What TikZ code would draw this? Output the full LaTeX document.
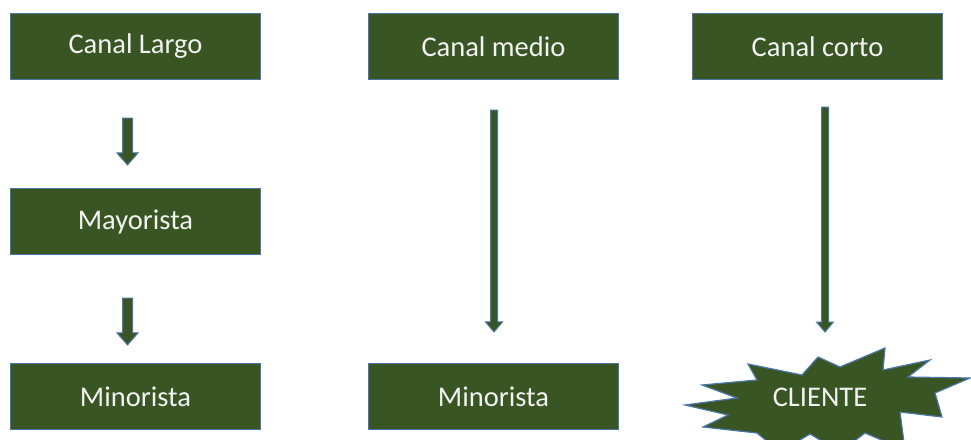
\documentclass[tikz,border=0pt]{standalone}
\usepackage{fontspec}
\setmainfont{Carlito}
\usetikzlibrary{calc}
\definecolor{boxgreen}{HTML}{3A5524}
\definecolor{boxline}{HTML}{4A76A8}
\definecolor{txt}{HTML}{F2F2F2}
\tikzset{
  gbox/.style={draw=boxline, line width=1.1pt, fill=boxgreen, rectangle,
    minimum width=250pt, minimum height=66pt, inner sep=0pt,
    text=txt, font=\fontsize{28.5}{31}\selectfont},
  garrow/.style={draw=boxline, line width=1pt, fill=boxgreen, line join=miter},
  gstar/.style={draw=boxline, line width=1.2pt, fill=boxgreen, line join=miter},
  startext/.style={text=txt, font=\fontsize{28.5}{31}\selectfont, inner sep=0pt}
}
% #1 start, #2 tip, #3 shaft half width, #4 head half width, #5 head length
\newcommand{\blkarrow}[5]{%
  \path[garrow] let \p1=(#1), \p2=(#2) in
    (\x1-#3,\y1) -- (\x1+#3,\y1) -- (\x1+#3,\y2+#5) -- (\x1+#4,\y2+#5)
    -- (\x1,\y2) -- (\x1-#4,\y2+#5) -- (\x1-#3,\y2+#5) -- cycle;}
\begin{document}
\begin{tikzpicture}[x=1pt,y=-1pt]
\path[use as bounding box, fill=white] (0,0) rectangle (971,439);

\node[gbox] (largo) at (135.5,46.5) {Canal Largo};
\node[gbox] (mayor) at (135.5,221.5) {Mayorista};
\node[gbox] (minor1) at (135.5,396.5) {Minorista};
\node[gbox] (medio) at (493.5,46.5) {Canal medio};
\node[gbox] (minor2) at (493.5,396.5) {Minorista};
\node[gbox] (corto) at (817.5,46.5) {Canal corto};

% arrow end points (y grows downward)
\coordinate (a1s) at ($(largo.south)+(-8,38)$);
\coordinate (a1e) at ($(mayor.north)+(-8,-23)$);
\coordinate (a2s) at ($(mayor.south)+(-8,43)$);
\coordinate (a2e) at ($(minor1.north)+(-8,-18)$);
\coordinate (a3s) at ($(medio.south)+(0.5,30)$);
\coordinate (a3e) at ($(minor2.north)+(0.5,-31)$);
\coordinate (a4s) at ($(corto.south)+(7.5,27)$);
\coordinate (a4e) at (825,332);

\blkarrow{a1s}{a1e}{5}{10.5}{12}
\blkarrow{a2s}{a2e}{5}{10.5}{12}
\blkarrow{a3s}{a3e}{3.5}{8.5}{10}
\blkarrow{a4s}{a4e}{3.5}{8.5}{10}

\begin{scope}
\clip (0,0) rectangle (971,439);
\path[gstar] (685,405) -- (737,398) -- (702,385) -- (757,380) -- (748,364)
  -- (802,375) -- (818,357) -- (840,367) -- (885,348) -- (883,370)
  -- (930,360) -- (908,377) -- (970,378) -- (935,393) -- (942,417)
  -- (900,412) -- (905,450) -- (865,433) -- (840,452) -- (810,434)
  -- (780,452) -- (757,433) -- (703,427) -- (728,415) -- cycle;
\end{scope}
\node[startext] (cliente) at (820,397) {CLIENTE};
\end{tikzpicture}
\end{document}
